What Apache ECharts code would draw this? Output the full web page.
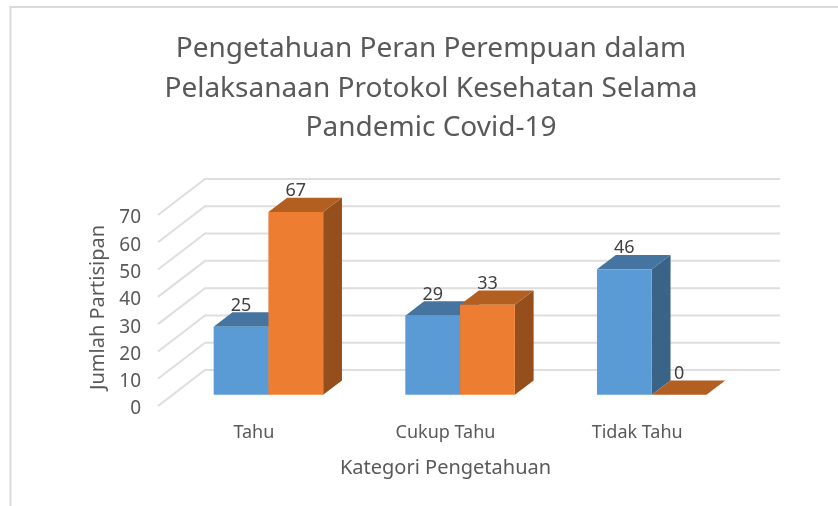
<!DOCTYPE html>
<html>
<head>
<meta charset="utf-8">
<style>
  html, body { margin: 0; padding: 0; background: #fff; }
  #chart { width: 838px; height: 506px; }
</style>
<script src="https://cdn.jsdelivr.net/npm/echarts@6/dist/echarts.min.js"></script>
</head>
<body>
<div id="chart"></div>
<script>
const categories = ['Tahu', 'Cukup Tahu', 'Tidak Tahu'];
const seriesBlue = [25, 29, 46];
const seriesOrange = [67, 33, 0];
const yTicks = [0, 10, 20, 30, 40, 50, 60, 70];

const FONT = '"Noto Sans", sans-serif';
const TEXT = '#595959';

// how far the floor runs back, in pixels
const DEPTH_X = 47;
const DEPTH_Y = 36;
// bars sit between these two depths
const BAR_FRONT = 0.31;
const BAR_DEPTH = 0.4;

var myChart = echarts.init(document.getElementById('chart'));

function gridLine(params, api) {
    const box = params.coordSys;
    const y = api.coord([0, api.value(1)])[1];
    return {
        type: 'polyline',
        shape: { points: [[box.x, y], [box.x + DEPTH_X, y - DEPTH_Y], [box.x + box.width + DEPTH_X, y - DEPTH_Y]] },
        style: { fill: 'none', stroke: '#dedede', lineWidth: 2 }
    };
}

function barRenderer(offset, front, top, side) {
    return function (params, api) {
        const band = api.size([1, 0])[0];
        const w = band / 3.5;
        const val = api.value(1);
        const topPt = api.coord([api.value(0), val]);
        const basePt = api.coord([api.value(0), 0]);
        const x0 = topPt[0] + offset * w + DEPTH_X * BAR_FRONT;
        const x1 = x0 + w;
        const yt = topPt[1] - DEPTH_Y * BAR_FRONT;
        const yb = basePt[1] - DEPTH_Y * BAR_FRONT;
        const dx = DEPTH_X * BAR_DEPTH;
        const dy = DEPTH_Y * BAR_DEPTH;
        return {
            type: 'group',
            children: [
                { type: 'polygon', shape: { points: [[x1, yt], [x1 + dx, yt - dy], [x1 + dx, yb - dy], [x1, yb]] }, style: { fill: side } },
                { type: 'polygon', shape: { points: [[x0, yt], [x0 + dx, yt - dy], [x1 + dx, yt - dy], [x1, yt]] }, style: { fill: top } },
                { type: 'rect', shape: { x: x0, y: yt, width: w, height: yb - yt }, style: { fill: front } },
                {
                    type: 'text',
                    style: {
                        x: (x0 + x1) / 2, y: yt - 21, text: String(val),
                        fill: '#404040', font: '18px ' + FONT, textAlign: 'center', textVerticalAlign: 'middle'
                    }
                }
            ]
        };
    };
}

var option = {
    animation: false,
    backgroundColor: '#fff',
    title: {
        text: 'Pengetahuan Peran Perempuan dalam\nPelaksanaan Protokol Kesehatan Selama\nPandemic Covid-19',
        left: 426,
        top: 24.5,
        textAlign: 'center',
        textStyle: { fontFamily: FONT, fontSize: 28, fontWeight: 'normal', color: TEXT, lineHeight: 39.5 }
    },
    grid: { left: 158, right: 105, top: 215, bottom: 100 },
    xAxis: {
        type: 'category',
        data: categories,
        axisTick: { show: false },
        axisLine: { show: false },
        axisLabel: { fontFamily: FONT, fontSize: 18, color: TEXT, margin: 18 },
        name: 'Kategori Pengetahuan',
        nameLocation: 'middle',
        nameGap: 52,
        nameTextStyle: { fontFamily: FONT, fontSize: 20, color: TEXT }
    },
    yAxis: {
        type: 'value',
        min: 0,
        max: 70,
        interval: 10,
        splitLine: { show: false },
        axisLine: { show: false },
        axisTick: { show: false },
        // labels hang a little below their tick height in the reference
        axisLabel: { fontFamily: FONT, fontSize: 19, color: TEXT, margin: 17, verticalAlign: 'top', lineHeight: 6 },
        name: 'Jumlah Partisipan',
        nameLocation: 'middle',
        nameGap: 50,
        nameTextStyle: { fontFamily: FONT, fontSize: 20, color: TEXT, padding: [0, 0, 0, 6] }
    },
    graphic: [{
        type: 'polyline',
        shape: { points: [[10.5, 506], [10.5, 7], [838, 7]] },
        style: { fill: 'none', stroke: '#d9d9d9', lineWidth: 2 },
        silent: true
    }],
    series: [
        { type: 'custom', renderItem: gridLine, data: yTicks.map(v => [0, v]), z: 1, silent: true },
        {
            type: 'custom',
            renderItem: barRenderer(-1, '#5B9BD5', '#44749F', '#3A6487'),
            data: seriesBlue.map((v, i) => [i, v]),
            z: 2
        },
        {
            type: 'custom',
            renderItem: barRenderer(0, '#ED7D31', '#B45F22', '#954F1C'),
            data: seriesOrange.map((v, i) => [i, v]),
            z: 3
        }
    ]
};

myChart.setOption(option);
</script>
</body>
</html>
